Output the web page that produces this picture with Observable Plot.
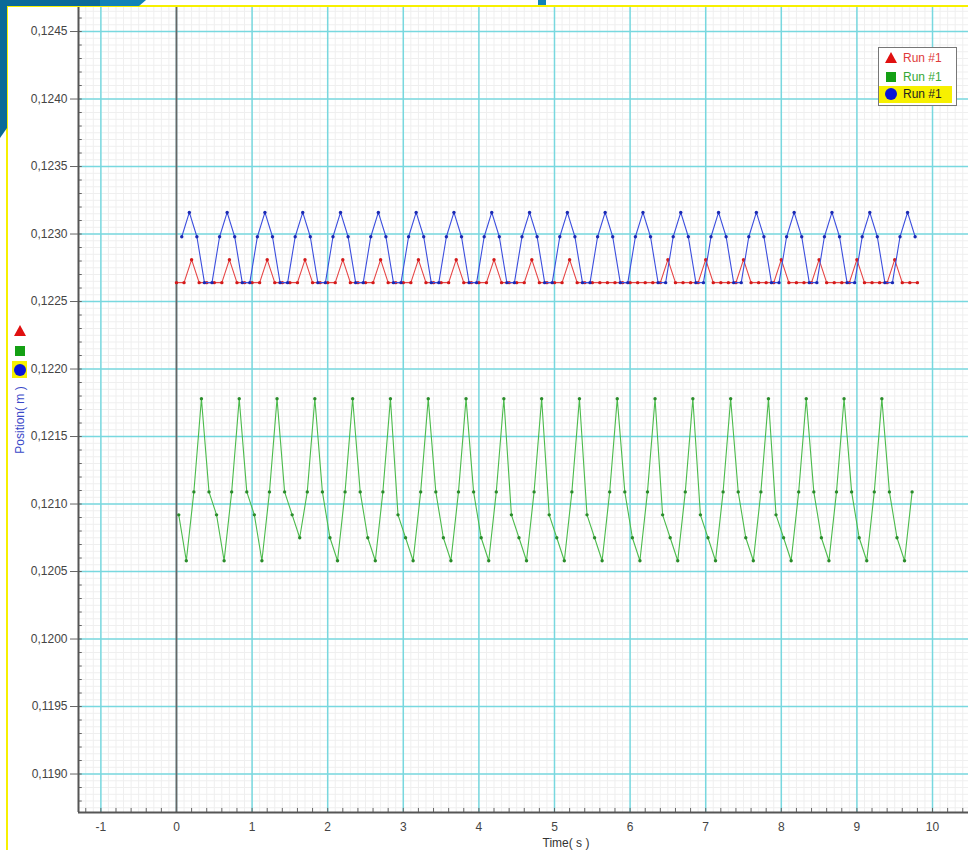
<!DOCTYPE html>
<html>
<head>
<meta charset="utf-8">
<script src="https://cdn.jsdelivr.net/npm/d3@7"></script>
<script src="https://cdn.jsdelivr.net/npm/@observablehq/plot@0.6"></script>
<style>
  html, body { margin: 0; padding: 0; background: #fff; }
  #wrap { position: relative; width: 968px; height: 850px; overflow: hidden;
          font-family: "Liberation Sans", Arial, sans-serif; }
  #chart { position: absolute; left: 0; top: 0; }
  .abs { position: absolute; }
  .txt { position: absolute; font-size: 12px; line-height: 14px; white-space: nowrap; }
</style>
</head>
<body>
<div id="wrap">
  <div id="chart"></div>
</div>
<script>
// ---- Data ----
const seriesNames = ["Run #1", "Run #1", "Run #1"];
const sampleInterval = 0.1;            // s between samples
const redStart = 0.0;                   // first sample time (s)
const greenStart = 0.03;
const blueStart = 0.07;

// Red: Position (m)
const redValues = [
  0.12264,0.12264,0.12281,0.12264,0.12264,0.12264,0.12264,0.12281,0.12264,0.12264,
  0.12264,0.12264,0.12281,0.12264,0.12264,0.12264,0.12264,0.12281,0.12264,0.12264,
  0.12264,0.12264,0.12281,0.12264,0.12264,0.12264,0.12264,0.12281,0.12264,0.12264,
  0.12264,0.12264,0.12281,0.12264,0.12264,0.12264,0.12264,0.12281,0.12264,0.12264,
  0.12264,0.12264,0.12281,0.12264,0.12264,0.12264,0.12264,0.12281,0.12264,0.12264,
  0.12264,0.12264,0.12281,0.12264,0.12264,0.12264,0.12264,0.12264,0.12264,0.12264,
  0.12264,0.12264,0.12264,0.12264,0.12264,0.12281,0.12264,0.12264,0.12264,0.12264,
  0.12281,0.12264,0.12264,0.12264,0.12264,0.12281,0.12264,0.12264,0.12264,0.12264,
  0.12281,0.12264,0.12264,0.12264,0.12264,0.12281,0.12264,0.12264,0.12264,0.12264,
  0.12281,0.12264,0.12264,0.12264,0.12264,0.12281,0.12264,0.12264,0.12264
];

// Green: Position (m)
const greenValues = [
  0.12092,0.12058,0.12109,0.12178,0.12109,0.12092,0.12058,0.12109,0.12178,0.12109,
  0.12092,0.12058,0.12109,0.12178,0.12109,0.12092,0.12075,0.12109,0.12178,0.12109,
  0.12075,0.12058,0.12109,0.12178,0.12109,0.12075,0.12058,0.12109,0.12178,0.12092,
  0.12075,0.12058,0.12109,0.12178,0.12109,0.12075,0.12058,0.12109,0.12178,0.12109,
  0.12075,0.12058,0.12109,0.12178,0.12092,0.12075,0.12058,0.12109,0.12178,0.12092,
  0.12075,0.12058,0.12109,0.12178,0.12092,0.12075,0.12058,0.12109,0.12178,0.12109,
  0.12075,0.12058,0.12109,0.12178,0.12092,0.12075,0.12058,0.12109,0.12178,0.12092,
  0.12075,0.12058,0.12109,0.12178,0.12109,0.12075,0.12058,0.12109,0.12178,0.12092,
  0.12075,0.12058,0.12109,0.12178,0.12109,0.12075,0.12058,0.12109,0.12178,0.12109,
  0.12075,0.12058,0.12109,0.12178,0.12109,0.12075,0.12058,0.12109
];

// Blue: Position (m)
const blueValues = [
  0.12298,0.12316,0.12298,0.12264,0.12264,0.12298,0.12316,0.12298,0.12264,0.12264,
  0.12298,0.12316,0.12298,0.12264,0.12264,0.12298,0.12316,0.12298,0.12264,0.12264,
  0.12298,0.12316,0.12298,0.12264,0.12264,0.12298,0.12316,0.12298,0.12264,0.12264,
  0.12298,0.12316,0.12298,0.12264,0.12264,0.12298,0.12316,0.12298,0.12264,0.12264,
  0.12298,0.12316,0.12298,0.12264,0.12264,0.12298,0.12316,0.12298,0.12264,0.12264,
  0.12298,0.12316,0.12298,0.12264,0.12264,0.12298,0.12316,0.12298,0.12264,0.12264,
  0.12298,0.12316,0.12298,0.12264,0.12264,0.12298,0.12316,0.12298,0.12264,0.12264,
  0.12298,0.12316,0.12298,0.12264,0.12264,0.12298,0.12316,0.12298,0.12264,0.12264,
  0.12298,0.12316,0.12298,0.12264,0.12264,0.12298,0.12316,0.12298,0.12264,0.12264,
  0.12298,0.12316,0.12298,0.12264,0.12264,0.12298,0.12316,0.12298
];

const xTickLabels = [-1, 0, 1, 2, 3, 4, 5, 6, 7, 8, 9, 10];
const yTickLabels = [0.1190, 0.1195, 0.1200, 0.1205, 0.1210, 0.1215, 0.1220, 0.1225, 0.1230, 0.1235, 0.1240, 0.1245];
const xTitle = "Time( s )";
const yTitle = "Position( m )";

// ---- Build tables ----
const toRows = (vals, start) => vals.map((v, i) => ({t: +(start + i * sampleInterval).toFixed(3), v}));
const red = toRows(redValues, redStart);
const green = toRows(greenValues, greenStart);
const blue = toRows(blueValues, blueStart);

const xDomain = [-1.296, 10.476];
const yDomain = [0.118715, 0.124678];

// grid helpers (structure, not data)
const xMinor = d3.range(-12, 105).map(i => i / 10);
const xTick02 = d3.range(-6, 53).map(i => i / 5);
const yMinor = d3.range(2375, 2494).map(i => i * 0.00005);
const yTick01 = d3.range(1188, 1247).map(i => i * 0.0001);

const fmtY = d => d3.format(".4f")(d).replace(".", ",");
const fmtX = d => String(d);
const cyan = "#78d8df";

const chart = Plot.plot({
  width: 968,
  height: 850,
  marginLeft: 78,
  marginTop: 7,
  marginRight: 0,
  marginBottom: 38,
  style: {fontFamily: "Liberation Sans, Arial, sans-serif", fontSize: "12px", background: "transparent", overflow: "visible"},
  x: {domain: xDomain, label: null},
  y: {domain: yDomain, label: null},
  marks: [
    Plot.ruleX(xMinor, {stroke: "#efefef", strokeWidth: 1}),
    Plot.ruleY(yMinor, {stroke: "#efefef", strokeWidth: 1}),
    Plot.ruleX(xTickLabels, {stroke: cyan, strokeWidth: 1.5}),
    Plot.ruleY(yTickLabels, {stroke: cyan, strokeWidth: 1.5}),
    Plot.ruleX([0], {stroke: "#666", strokeWidth: 1.8}),
    Plot.ruleX(xTick02, {y1: yDomain[0], y2: yDomain[0] + 0.00003, stroke: "#666"}),
    Plot.ruleY(yTick01, {x1: xDomain[0], x2: xDomain[0] + 0.05, stroke: "#666"}),
    Plot.ruleX([xDomain[0]], {stroke: "#555", strokeWidth: 2}),
    Plot.ruleY([yDomain[0]], {stroke: "#555", strokeWidth: 2}),
    Plot.axisY(yTickLabels, {tickFormat: fmtY, tickSize: 8, tickPadding: 3, fontSize: 12, stroke: "#666", fill: "#444", label: null}),
    Plot.axisX(xTickLabels, {tickFormat: fmtX, tickSize: 0, tickPadding: 10, fontSize: 12, fill: "#444", label: null}),
    Plot.line(red, {x: "t", y: "v", stroke: "#e64646", strokeWidth: 1.1}),
    Plot.dot(red, {x: "t", y: "v", r: 1.7, fill: "#d41a1a", stroke: "none"}),
    Plot.line(green, {x: "t", y: "v", stroke: "#4cbb4c", strokeWidth: 1.1}),
    Plot.dot(green, {x: "t", y: "v", r: 1.7, fill: "#2a8c2a", stroke: "none"}),
    Plot.line(blue, {x: "t", y: "v", stroke: "#3c4ede", strokeWidth: 1.1}),
    Plot.dot(blue, {x: "t", y: "v", r: 1.7, fill: "#1a2ab4", stroke: "none"})
  ]
});
document.getElementById("chart").appendChild(chart);

// ---- Overlays: frame decoration, titles, legends ----
const wrap = document.getElementById("wrap");
function add(html) { wrap.insertAdjacentHTML("beforeend", html); }

// yellow border and corner decoration
add(`<div class="abs" style="left:6px;top:5px;width:962px;height:2px;background:#f7f000"></div>`);
add(`<div class="abs" style="left:6px;top:5px;width:2px;height:845px;background:#f7f000"></div>`);
add(`<div class="abs" style="left:0;top:0;width:146px;height:6px;background:#1283b8;clip-path:polygon(0 0,146px 0,139px 6px,0 6px)"></div>`);
add(`<div class="abs" style="left:0;top:0;width:100px;height:6px;background:#0b6a98"></div>`);
add(`<div class="abs" style="left:0;top:0;width:7px;height:138px;background:#0b6a98;clip-path:polygon(0 0,7px 0,7px 128px,0 138px)"></div>`);
add(`<div class="abs" style="left:538px;top:0;width:8px;height:5px;background:#1283b8"></div>`);

// axis titles
add(`<div class="txt" style="left:566px;top:843px;transform:translate(-50%,-50%);color:#333">${xTitle}</div>`);
add(`<div class="txt" style="left:20px;top:420px;transform:translate(-50%,-50%) rotate(-90deg);color:#3a48c8">${yTitle}</div>`);

// left-side series markers
add(`<div class="abs" style="left:14px;top:325px;width:0;height:0;border-left:6px solid transparent;border-right:6px solid transparent;border-bottom:11px solid #e01010"></div>`);
add(`<div class="abs" style="left:15px;top:346px;width:10px;height:10px;background:#14a014"></div>`);
add(`<div class="abs" style="left:12px;top:361px;width:15px;height:17px;background:#f7f000"></div>`);
add(`<div class="abs" style="left:14px;top:364px;width:12px;height:12px;border-radius:50%;background:#0a14d8"></div>`);

// legend box
add(`<div class="abs" style="left:878px;top:47px;width:77px;height:57px;background:#fff;border:1px solid #777"></div>`);
add(`<div class="abs" style="left:885px;top:52px;width:0;height:0;border-left:6px solid transparent;border-right:6px solid transparent;border-bottom:11px solid #e01010"></div>`);
add(`<div class="txt" style="left:903px;top:51px;color:#e03a3a">${seriesNames[0]}</div>`);
add(`<div class="abs" style="left:886px;top:72px;width:10px;height:10px;background:#14a014"></div>`);
add(`<div class="txt" style="left:903px;top:70px;color:#36a836">${seriesNames[1]}</div>`);
add(`<div class="abs" style="left:879px;top:86px;width:73px;height:17px;background:#f7f000"></div>`);
add(`<div class="abs" style="left:885px;top:88px;width:12px;height:12px;border-radius:50%;background:#0a14d8"></div>`);
add(`<div class="txt" style="left:903px;top:87px;color:#222">${seriesNames[2]}</div>`);
</script>
</body>
</html>
